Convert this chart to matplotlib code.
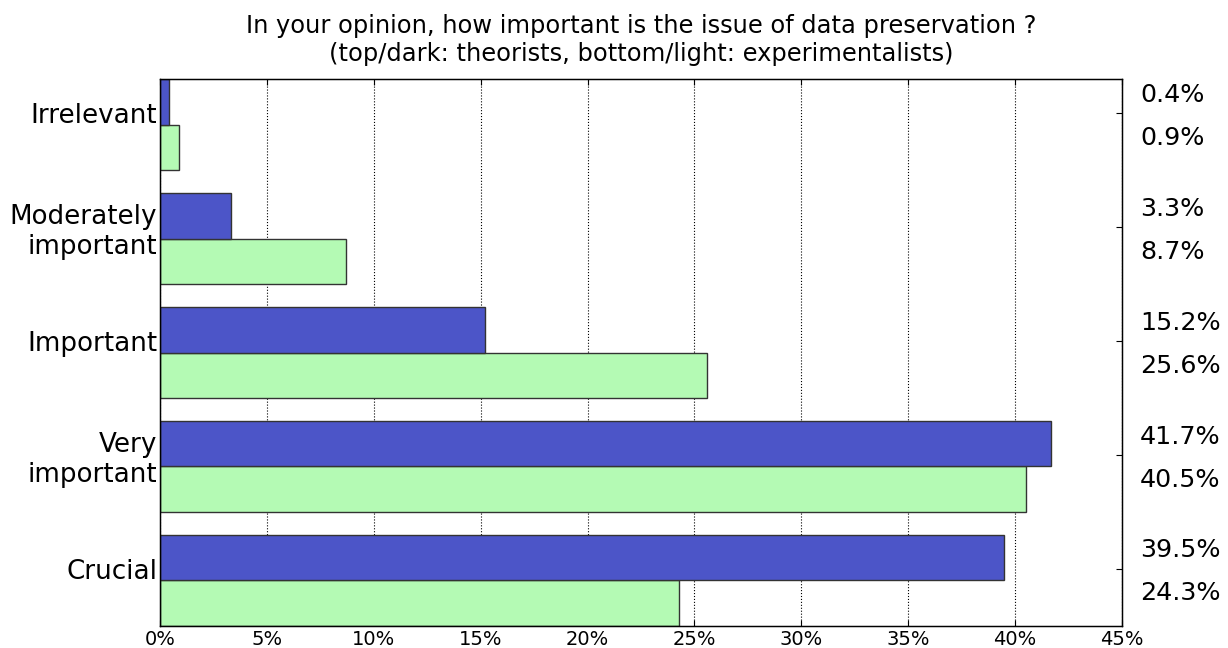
import matplotlib
matplotlib.use('Agg')
import matplotlib.pyplot as plt
import matplotlib.transforms as mtransforms
import numpy as np

categories = ["Irrelevant", "Moderately\nimportant", "Important", "Very\nimportant", "Crucial"]
theorists = [0.4, 3.3, 15.2, 41.7, 39.5]
experimentalists = [0.9, 8.7, 25.6, 40.5, 24.3]
xticks = [0, 5, 10, 15, 20, 25, 30, 35, 40, 45]

fig = plt.figure(figsize=(12.28, 6.48), dpi=100)
ax = fig.add_axes([0.1303, 0.034, 0.7834, 0.844])

n = len(categories)
base = np.arange(n)[::-1].astype(float)  # top category gets the highest position
h = 0.4

ax.barh(base, experimentalists, height=h, align='edge', color='#b4fab4',
        edgecolor='#333333', linewidth=1, zorder=2)
ax.barh(base + h, theorists, height=h, align='edge', color='#4c55c8',
        edgecolor='#333333', linewidth=1, zorder=2)

ax.set_xlim(0, 45)
ax.set_ylim(0, n - 0.2)
ax.set_xticks(xticks)
ax.set_xticklabels([f"{v}%" for v in xticks], fontsize=14)
ax.set_yticks(base + 0.5)
ax.set_yticklabels(categories, fontsize=18.8)
ax.tick_params(axis='y', direction='in', length=4, pad=2)
ax.tick_params(axis='x', direction='in', length=4, pad=3, top=True)
ax.xaxis.grid(True, linestyle=':', color='black', linewidth=0.8, zorder=0)
ax.set_axisbelow(True)
for s in ax.spines.values():
    s.set_linewidth(1)

# right side: percentages for each group (top: theorists, bottom: experimentalists)
ax2 = ax.twinx()
ax2.set_ylim(ax.get_ylim())
ax2.set_yticks(base + 0.5)
ax2.set_yticklabels([f"{t}%\n{e}%" for t, e in zip(theorists, experimentalists)],
                    fontsize=18.3, linespacing=2.0)
ax2.tick_params(axis='y', direction='in', length=4, pad=13)
shift = mtransforms.ScaledTranslation(0, 0.09, fig.dpi_scale_trans)
for lbl in ax2.get_yticklabels():
    lbl.set_transform(lbl.get_transform() + shift)

ax.set_title("In your opinion, how important is the issue of data preservation ?\n"
             "(top/dark: theorists, bottom/light: experimentalists)",
             fontsize=17.4, pad=13)

fig.savefig("out.png", dpi=100)
